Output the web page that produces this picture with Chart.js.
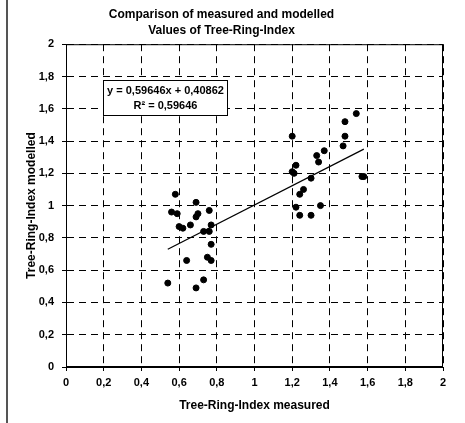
<!DOCTYPE html>
<html>
<head>
<meta charset="utf-8">
<script src="https://cdn.jsdelivr.net/npm/chart.js@4.4.0/dist/chart.umd.min.js"></script>
<style>
  html,body{margin:0;padding:0;background:#fff;}
  #wrap{position:relative;width:465px;height:423px;}
  #edge{position:absolute;left:6px;top:0;width:2px;height:423px;background:#555;}
  canvas{position:absolute;left:0;top:0;}
</style>
</head>
<body>
<div id="wrap">
  <canvas id="c" width="465" height="423"></canvas>
  <div id="edge"></div>
</div>
<script>
/* ============ data ============ */
const measured = [0.54,0.58,0.56,0.59,0.60,0.62,0.64,0.66,0.69,0.69,0.69,0.70,0.73,0.73,0.75,0.76,0.76,0.77,0.77,0.77,
                  1.20,1.22,1.20,1.21,1.26,1.24,1.22,1.24,1.30,1.30,1.33,1.34,1.37,1.35,1.47,1.48,1.48,1.54,1.57,1.58];
const modelled = [0.52,1.07,0.96,0.95,0.87,0.86,0.66,0.88,0.49,0.93,1.02,0.95,0.54,0.84,0.68,0.84,0.97,0.88,0.76,0.66,
                  1.43,1.25,1.21,1.20,1.10,1.07,0.99,0.94,0.94,1.17,1.31,1.27,1.34,1.00,1.37,1.43,1.52,1.57,1.18,1.18];
const trendX = [0.54,1.58];
const trendY = [0.73,1.35];
const equation = ['y = 0,59646x + 0,40862','R² = 0,59646'];
const titleLines = ['Comparison of measured and modelled','Values of Tree-Ring-Index'];

const FONT = "'Liberation Sans', Arial, sans-serif";
const fmt = v => String(Math.round(v*10)/10).replace('.',',');

/* solid frame round the plot + equation box */
const framePlugin = {id:'frame', afterDraw(ch){
  const {ctx, chartArea:a, scales:{x,y}} = ch;
  ctx.save();
  ctx.strokeStyle='#000'; ctx.lineWidth=1; ctx.setLineDash([]);
  ctx.strokeRect(a.left+.5, a.top+.5, a.right-a.left-1, a.bottom-a.top-1);
  // equation box, anchored in data space
  const bx = Math.round(x.getPixelForValue(0.196))+.5, by = Math.round(y.getPixelForValue(1.778))+.5;
  const bw = 124, bh = 35;
  ctx.fillStyle='#fff'; ctx.fillRect(bx,by,bw,bh); ctx.strokeRect(bx,by,bw,bh);
  ctx.fillStyle='#000'; ctx.font='bold 11px '+FONT; ctx.textAlign='center'; ctx.textBaseline='middle';
  ctx.fillText(equation[0], bx+bw/2, by+10);
  ctx.fillText(equation[1], bx+bw/2, by+25);
  ctx.restore();
}};

new Chart(document.getElementById('c'), {
  type:'scatter',
  data:{datasets:[
    {label:'points', data:measured.map((v,i)=>({x:v,y:modelled[i]})), backgroundColor:'#000', borderColor:'#000', pointRadius:3, pointHoverRadius:3},
    {label:'trend', type:'line', data:trendX.map((v,i)=>({x:v,y:trendY[i]})), borderColor:'#000', borderWidth:1.2, pointRadius:0, showLine:true, fill:false}
  ]},
  options:{
    responsive:false, animation:false,
    layout:{padding:{left:0,right:22,top:0,bottom:0}},
    plugins:{
      legend:{display:false}, tooltip:{enabled:false},
      title:{display:true, text:titleLines, color:'#000', font:{family:FONT,size:12,weight:'bold',lineHeight:1.3}, padding:{top:7,bottom:6}}
    },
    scales:{
      x:{type:'linear', min:0, max:2,
        ticks:{stepSize:0.2, callback:fmt, color:'#000', font:{family:FONT,size:11,weight:'bold'}, padding:5, maxRotation:0},
        grid:{color:'#000', lineWidth:1, tickLength:4, tickColor:'#000'},
        border:{display:true, color:'#000', dash:[7,5]},
        title:{display:true, text:'Tree-Ring-Index measured', color:'#000', font:{family:FONT,size:12,weight:'bold'}, padding:{top:4,bottom:10}},
        afterFit:s=>{s.height=56;}
      },
      y:{type:'linear', min:0, max:2,
        ticks:{stepSize:0.2, callback:fmt, color:'#000', font:{family:FONT,size:11,weight:'bold'}, padding:8},
        grid:{color:'#000', lineWidth:1, tickLength:4, tickColor:'#000'},
        border:{display:true, color:'#000', dash:[7,5]},
        title:{display:true, text:'Tree-Ring-Index modelled', color:'#000', font:{family:FONT,size:12,weight:'bold'}, padding:{top:24,bottom:4}},
        afterFit:s=>{s.width=66;}
      }
    }
  },
  plugins:[framePlugin]
});
</script>
</body>
</html>
